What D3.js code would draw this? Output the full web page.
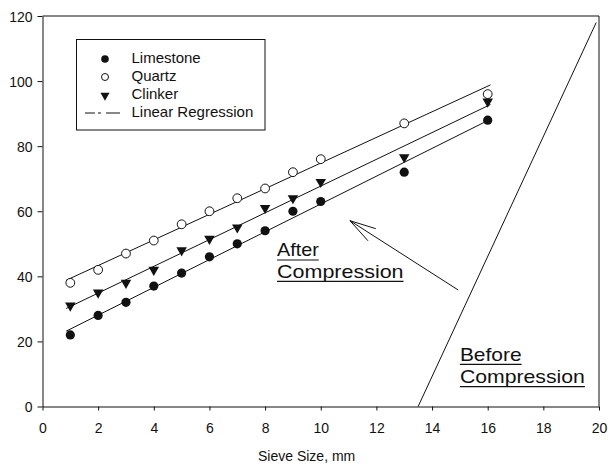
<!DOCTYPE html>
<html>
<head>
<meta charset="utf-8">
<script src="https://cdn.jsdelivr.net/npm/d3@7/dist/d3.min.js"></script>
<style>
  html, body { margin: 0; padding: 0; background: #fff; }
  svg { display: block; }
  text { font-family: "Liberation Sans", Arial, sans-serif; fill: #111; }
</style>
</head>
<body>
<svg id="chart" width="608" height="469"></svg>
<script>
// ---- Data ----
const sieveSizes = [1, 2, 3, 4, 5, 6, 7, 8, 9, 10, 13, 16];
const limestone = [22, 28, 32, 37, 41, 46, 50, 54, 60, 63, 72, 88];
const quartz    = [38, 42, 47, 51, 56, 60, 64, 67, 72, 76, 87, 96];
const clinker   = [31, 35, 38, 42, 48, 51.5, 55, 61, 64, 69, 76.6, 93.7];
const beforeX = [13.5, 19.9];
const beforeY = [0, 118];
const xTicks = [0, 2, 4, 6, 8, 10, 12, 14, 16, 18, 20];
const yTicks = [0, 20, 40, 60, 80, 100, 120];
const seriesNames = ["Limestone", "Quartz", "Clinker", "Linear Regression"];
const xTitle = "Sieve Size, mm";
const arrowTail = [14.94, 35.8];
const arrowHead = [11.05, 57.1];
const annotations = [
  { lines: ["After", "Compression"], x: 8.43, y: [46.1, 39.5], widths: [41.7, 126.5] },
  { lines: ["Before", "Compression"], x: 15.0, y: [14.0, 7.2], widths: [61.7, 125] }
];

// ---- Layout ----
const svg = d3.select("#chart");
const margin = { left: 42.5, top: 16, right: 9, bottom: 62.5 };
const W = 608, H = 469;
const x = d3.scaleLinear().domain([0, 20]).range([margin.left, W - margin.right]);
const y = d3.scaleLinear().domain([0, 120]).range([H - margin.bottom, margin.top]);

// frame (top & right)
svg.append("path")
  .attr("d", `M${x(0)},${y(120)}H${x(20)}V${y(0)}`)
  .attr("fill", "none").attr("stroke", "#111").attr("stroke-width", 1);

// axes
const xAxis = svg.append("g").attr("transform", `translate(0,${y(0)})`)
  .call(d3.axisBottom(x).tickValues(xTicks).tickSize(4).tickPadding(13).tickSizeOuter(0));
const yAxis = svg.append("g").attr("transform", `translate(${x(0)},0)`)
  .call(d3.axisLeft(y).tickValues(yTicks).tickSize(5).tickPadding(5).tickSizeOuter(0));
[xAxis, yAxis].forEach(g => {
  g.selectAll("path.domain").attr("stroke", "#111");
  g.selectAll("line").attr("stroke", "#111");
  g.selectAll("text").style("font-size", "14px").attr("fill", "#111")
    .style("font-family", "'Liberation Sans', Arial, sans-serif");
});
yAxis.selectAll("text").attr("dy", "0.36em");

svg.append("text").attr("x", 258).attr("y", 461)
  .style("font-size", "14px").text(xTitle);

// regression lines
function regress(xs, ys) {
  const mx = d3.mean(xs), my = d3.mean(ys);
  let sxy = 0, sxx = 0;
  xs.forEach((v, i) => { sxy += (v - mx) * (ys[i] - my); sxx += (v - mx) ** 2; });
  const b = sxy / sxx;
  return { a: my - b * mx, b };
}
const [xmin, xmax] = d3.extent(sieveSizes);
const lineX = [xmin - 0.15, xmax + 0.1];
[limestone, quartz, clinker].forEach(ys => {
  const r = regress(sieveSizes, ys);
  svg.append("line")
    .attr("x1", x(lineX[0])).attr("y1", y(r.a + r.b * lineX[0]))
    .attr("x2", x(lineX[1])).attr("y2", y(r.a + r.b * lineX[1]))
    .attr("stroke", "#111").attr("stroke-width", 1);
});

// points
const tri = d3.symbol().type(d3.symbolTriangle).size(48);
svg.append("g").selectAll("circle").data(sieveSizes).join("circle")
  .attr("cx", d => x(d)).attr("cy", (d, i) => y(limestone[i])).attr("r", 4.6)
  .attr("fill", "#111");
svg.append("g").selectAll("circle").data(sieveSizes).join("circle")
  .attr("cx", d => x(d)).attr("cy", (d, i) => y(quartz[i])).attr("r", 4.4)
  .attr("fill", "#fff").attr("stroke", "#111").attr("stroke-width", 1);
svg.append("g").selectAll("path").data(sieveSizes).join("path")
  .attr("d", tri)
  .attr("transform", (d, i) => `translate(${x(d)},${y(clinker[i])}) rotate(180)`)
  .attr("fill", "#111");

// before compression line
svg.append("line")
  .attr("x1", x(beforeX[0])).attr("y1", y(beforeY[0]))
  .attr("x2", x(beforeX[1])).attr("y2", y(beforeY[1]))
  .attr("stroke", "#111").attr("stroke-width", 1);

// arrow
const hx = x(arrowHead[0]), hy = y(arrowHead[1]);
const tx = x(arrowTail[0]), ty = y(arrowTail[1]);
svg.append("line").attr("x1", tx).attr("y1", ty).attr("x2", hx).attr("y2", hy)
  .attr("stroke", "#111").attr("stroke-width", 1);
const ang = Math.atan2(ty - hy, tx - hx);
[-0.27, 0.27].forEach(da => {
  svg.append("line").attr("x1", hx).attr("y1", hy)
    .attr("x2", hx + 27 * Math.cos(ang + da)).attr("y2", hy + 27 * Math.sin(ang + da))
    .attr("stroke", "#111").attr("stroke-width", 1);
});

// annotations
annotations.forEach(a => {
  a.lines.forEach((t, i) => {
    const px = x(a.x), py = y(a.y[i]);
    svg.append("text").attr("x", px).attr("y", py)
      .style("font-size", "18.5px")
      .attr("textLength", a.widths[i]).attr("lengthAdjust", "spacingAndGlyphs")
      .text(t);
    svg.append("line").attr("x1", px).attr("x2", px + a.widths[i])
      .attr("y1", py + 3.5).attr("y2", py + 3.5)
      .attr("stroke", "#111").attr("stroke-width", 1.2);
  });
});

// legend
const lg = svg.append("g");
lg.append("rect").attr("x", 76.5).attr("y", 39.5).attr("width", 188.5).attr("height", 90.5)
  .attr("fill", "#fff").attr("stroke", "#111").attr("stroke-width", 1);
const rowBase = [62.5, 81, 98.5, 117];
const mx0 = 105;
lg.append("circle").attr("cx", mx0).attr("cy", 59).attr("r", 3.8).attr("fill", "#111");
lg.append("circle").attr("cx", mx0).attr("cy", 77).attr("r", 3.5)
  .attr("fill", "#fff").attr("stroke", "#111").attr("stroke-width", 1);
lg.append("path").attr("d", d3.symbol().type(d3.symbolTriangle).size(36))
  .attr("transform", `translate(${mx0},95.5) rotate(180)`).attr("fill", "#111");
lg.append("path").attr("d", "M85,113H95M98,113H101M106,113H120")
  .attr("stroke", "#111").attr("stroke-width", 1);
seriesNames.forEach((n, i) => {
  lg.append("text").attr("x", 131.5).attr("y", rowBase[i])
    .style("font-size", "15px").text(n);
});
</script>
</body>
</html>
